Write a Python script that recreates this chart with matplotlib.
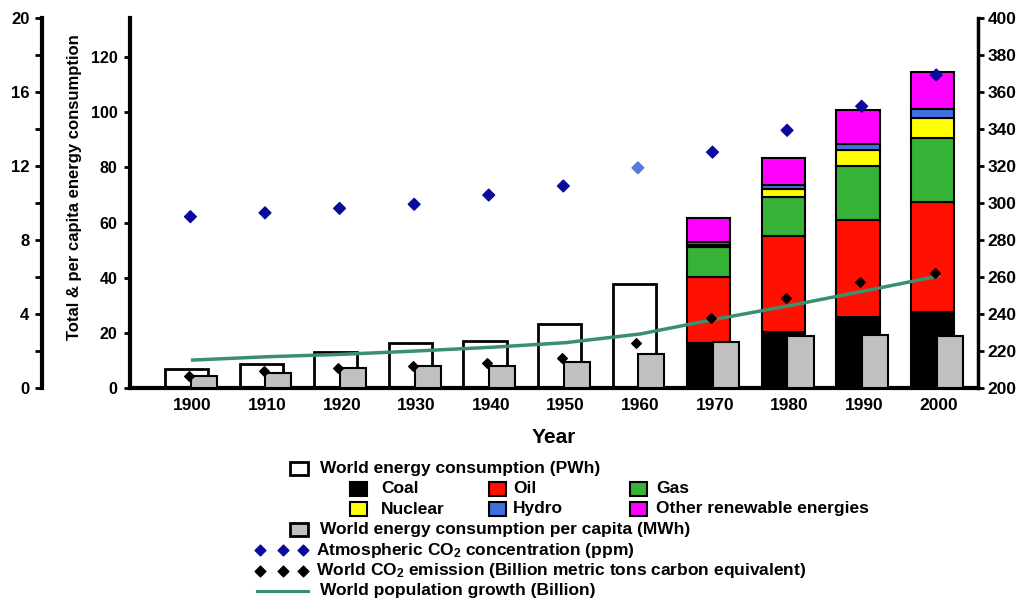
import numpy as np
import matplotlib
matplotlib.use("Agg")
import matplotlib.pyplot as plt
from matplotlib.patches import Rectangle

plt.rcParams['font.family'] = ['Liberation Sans', 'DejaVu Sans']
plt.rcParams['font.weight'] = 'bold'
plt.rcParams['mathtext.fontset'] = 'custom'
plt.rcParams['mathtext.rm'] = 'Liberation Sans:bold'
plt.rcParams['mathtext.it'] = 'Liberation Sans:bold'
plt.rcParams['mathtext.bf'] = 'Liberation Sans:bold'

# 데이터
years = [1900, 1910, 1920, 1930, 1940, 1950, 1960, 1970, 1980, 1990, 2000]
total_energy = [6.9, 8.6, 13.0, 16.2, 16.9, 23.2, 37.9, 61.8, 83.4, 100.7, 114.6]  # PWh
per_capita = [4.3, 5.5, 7.4, 8.0, 8.0, 9.3, 12.4, 16.8, 18.8, 19.4, 18.8]  # MWh
co2_ppm = [292.6, 294.7, 297.1, 299.3, 304.3, 309.2, 319.0, 327.5, 339.3, 352.3, 369.2]
co2_emission = [0.65, 0.92, 1.1, 1.19, 1.33, 1.6, 2.42, 3.8, 4.88, 5.75, 6.2]  # Gt C
population = [1.51, 1.69, 1.82, 2.0, 2.2, 2.45, 2.92, 3.71, 4.45, 5.24, 6.05]  # Billion

# 1970년 이후 에너지원별 구성
mix_years = [1970, 1980, 1990, 2000]
coal = [16.2, 20.4, 25.8, 27.6]
oil = [24.1, 34.8, 35.1, 39.9]
gas = [11.0, 14.1, 19.5, 23.2]
nuclear = [0.4, 2.7, 6.1, 7.2]
hydro = [1.4, 1.6, 2.1, 3.4]
other = [8.7, 9.8, 12.1, 13.3]
fuel_names = ["Coal", "Oil", "Gas", "Nuclear", "Hydro", "Other renewable energies"]
fuel_colors = ["#000000", "#ff1000", "#36b336", "#ffff00", "#3f6fe0", "#ff00ff"]

ppm_colors = ["#0a0a9c"] * 6 + ["#5a7ad6"] + ["#0a0a9c"] * 4
green = "#3b8f6f"
gray = "#c0c0c0"

W, H = 1024, 603
fig = plt.figure(figsize=(W / 100, H / 100), dpi=100)
ax = fig.add_axes([130 / W, 1 - 388 / H, 848 / W, 370 / H])

x = np.arange(len(years))
main_x = x - 0.08
cap_x = x + 0.15

# 총 에너지 소비 (구성 정보 없는 해)
old = [i for i, y in enumerate(years) if y not in mix_years]
ax.bar(main_x[old], [total_energy[i] for i in old], width=0.58,
       color="white", edgecolor="black", linewidth=2, zorder=2)

# 에너지원별 누적 막대
mix_idx = [years.index(y) for y in mix_years]
bottom = np.zeros(len(mix_years))
for vals, col in zip([coal, oil, gas, nuclear, hydro, other], fuel_colors):
    ax.bar(main_x[mix_idx], vals, width=0.58, bottom=bottom, color=col,
           edgecolor="black", linewidth=1.5, zorder=2)
    bottom += np.array(vals)

# 1인당 에너지 소비
ax.bar(cap_x, per_capita, width=0.35, color=gray, edgecolor="black",
       linewidth=1.5, zorder=3)

ax.set_xlim(-0.84, 10.53)
ax.set_ylim(0, 134.2)
ax.set_yticks(range(0, 121, 20))
ax.set_xticks(x, [str(y) for y in years])
ax.tick_params(axis="x", length=0, pad=7, labelsize=12.5)
ax.tick_params(axis="y", direction="out", length=4, width=2, labelsize=11.5, pad=5)
ax.spines[["top", "right"]].set_visible(False)
ax.spines["left"].set_linewidth(3)
ax.spines["bottom"].set_linewidth(3)
ax.set_ylabel("Total & per capita energy consumption", fontsize=12, fontweight="bold")
ax.yaxis.set_label_coords(-0.057, 0.543)
ax.set_xlabel("Year", fontsize=15, fontweight="bold", labelpad=11)

# 대기 중 CO2 농도 (오른쪽 축)
ax_r = ax.twinx()
ax_r.set_ylim(200, 400)
ax_r.set_yticks(range(200, 401, 20))
ax_r.scatter(x - 0.03, co2_ppm, marker="D", s=36, c=ppm_colors, zorder=5)
ax_r.spines[["top", "left", "bottom"]].set_visible(False)
ax_r.spines["right"].set_linewidth(2.5)
ax_r.tick_params(axis="y", direction="out", length=4, width=2, labelsize=12.5, pad=3)

# 인구 / CO2 배출 (바깥 왼쪽 축)
ax_p = ax.twinx()
ax_p.spines["left"].set_position(("axes", -0.1038))
ax_p.spines["left"].set_visible(True)
ax_p.spines["left"].set_linewidth(3)
ax_p.spines[["top", "right", "bottom"]].set_visible(False)
ax_p.yaxis.set_ticks_position("left")
ax_p.yaxis.set_label_position("left")
ax_p.set_ylim(0, 20)
ax_p.set_yticks(range(0, 21, 4))
ax_p.set_yticks(range(2, 20, 4), minor=True)
ax_p.tick_params(axis="y", which="both", direction="out", length=5, width=2,
                 labelsize=12, pad=4)
ax_p.plot(x, population, color=green, linewidth=2.5, zorder=3)
ax_p.scatter(x - 0.05, co2_emission, marker="D", s=24, c="black", zorder=4)

# 범례 (픽셀 좌표로 직접 배치)
lax = fig.add_axes([0, 0, 1, 1])
lax.set_xlim(0, W)
lax.set_ylim(H, 0)
lax.axis("off")

fs = 12.5
row_y = [468, 488.5, 509, 529.5, 550, 570.5, 591]

lax.add_patch(Rectangle((290, row_y[0] - 6.5), 18, 13, facecolor="white",
                        edgecolor="black", linewidth=2))
lax.text(320, row_y[0], "World energy consumption (PWh)", fontsize=fs, va="center")

col_sq = [350, 489, 630]
col_txt = [381, 513, 656]
for k, (name, col) in enumerate(zip(fuel_names, fuel_colors)):
    r, c = divmod(k, 3)
    yc = row_y[1 + r]
    lax.add_patch(Rectangle((col_sq[c], yc - 7), 17, 14, facecolor=col,
                            edgecolor="black", linewidth=1.5))
    lax.text(col_txt[c], yc, name, fontsize=fs, va="center")

lax.add_patch(Rectangle((290, row_y[3] - 6.5), 18, 13, facecolor=gray,
                        edgecolor="black", linewidth=2))
lax.text(320, row_y[3], "World energy consumption per capita (MWh)", fontsize=fs, va="center")

lax.scatter([260, 283, 303], [row_y[4]] * 3, marker="D", s=30, c="#0a0a9c")
lax.text(316, row_y[4], "Atmospheric CO$_2$ concentration (ppm)", fontsize=fs, va="center")

lax.scatter([260, 283, 303], [row_y[5]] * 3, marker="D", s=30, c="black")
lax.text(316, row_y[5], "World CO$_2$ emission (Billion metric tons carbon equivalent)",
         fontsize=fs, va="center")

lax.plot([257, 308], [row_y[6]] * 2, color=green, linewidth=2.2)
lax.text(320, row_y[6], "World population growth (Billion)", fontsize=fs, va="center")

fig.savefig("out.png", dpi=100)
